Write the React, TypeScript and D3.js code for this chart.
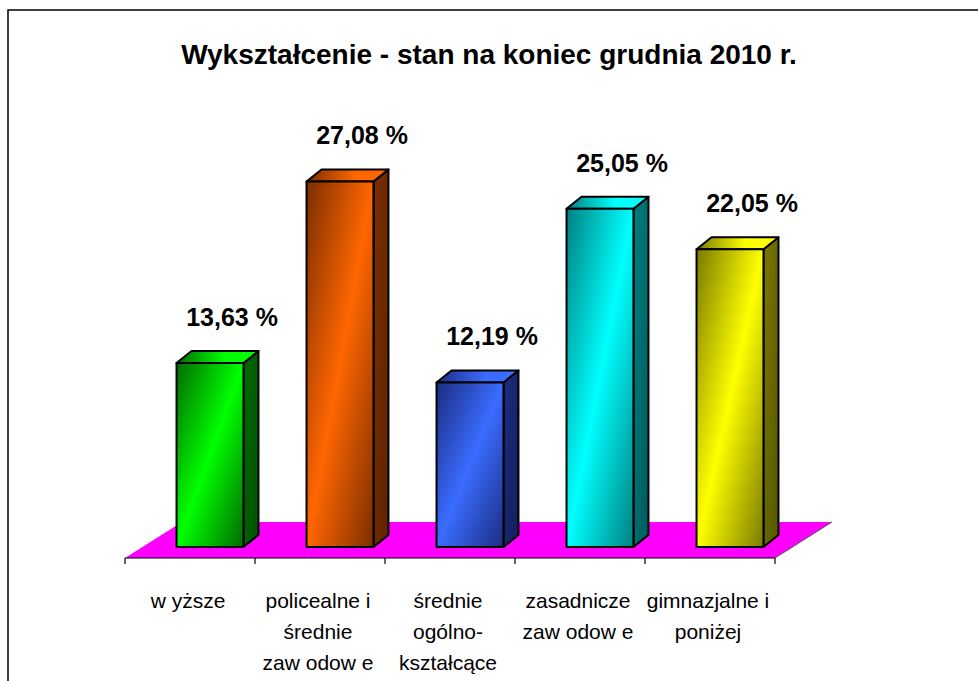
import React from "react";
import * as d3 from "d3";

const titleText = "Wykształcenie - stan na koniec grudnia 2010 r.";
const categories: string[][] = [
  ["w yższe"],
  ["policealne i", "średnie", "zaw odow e"],
  ["średnie", "ogólno-", "kształcące"],
  ["zasadnicze", "zaw odow e"],
  ["gimnazjalne i", "poniżej"],
];
const values = [13.63, 27.08, 12.19, 25.05, 22.05];
const brightColors = ["#00ff00", "#ff6600", "#3a6cff", "#00ffff", "#ffff00"];
const darkColors = ["#006a00", "#7a2e00", "#1c2c80", "#008080", "#7a7a00"];
const sideColors = ["#005200", "#5e2400", "#141f5c", "#005a5a", "#555500"];

const W = 978;
const H = 681;

export default function App() {
  const x = d3.scaleBand<number>().domain(values.map((_, i) => i)).range([125, 775]).padding(0);
  const y = d3.scaleLinear().domain([0, 30]).range([547, 142]);
  const floorFrontY = 558;
  const floorDX = 57;
  const floorDY = -36;
  const bw = x.bandwidth();
  const barW = bw * 0.515;
  const barOff = 20;
  const dX = 15;
  const dY = -12;
  const base = y(0);
  const fmt = (v: number) => v.toFixed(2).replace(".", ",") + " %";

  const x0 = x(0)!;
  const x1 = x0 + bw * values.length;
  const floorPts = [
    [x0, floorFrontY],
    [x1, floorFrontY],
    [x1 + floorDX, floorFrontY + floorDY],
    [x0 + floorDX, floorFrontY + floorDY],
  ];

  return (
    <svg
      width={W}
      height={H}
      style={{ position: "absolute", left: 0, top: 0, background: "#fff" }}
      fontFamily="Arial, 'Liberation Sans', sans-serif"
    >
      <defs>
        {values.map((_, i) => (
          <React.Fragment key={i}>
            <linearGradient id={`front${i}`} x1="0" y1="0" x2="1" y2="1">
              <stop offset="0" stopColor={darkColors[i]} />
              <stop offset="0.5" stopColor={brightColors[i]} />
              <stop offset="1" stopColor={darkColors[i]} />
            </linearGradient>
            <linearGradient id={`side${i}`} x1="0" y1="0" x2="1" y2="1">
              <stop offset="0" stopColor={darkColors[i]} />
              <stop offset="1" stopColor={sideColors[i]} />
            </linearGradient>
            <linearGradient id={`top${i}`} x1="0" y1="0" x2="1" y2="0">
              <stop offset="0" stopColor={darkColors[i]} />
              <stop offset="0.6" stopColor={brightColors[i]} />
              <stop offset="1" stopColor={brightColors[i]} />
            </linearGradient>
          </React.Fragment>
        ))}
      </defs>
      <rect x={8} y={10} width={1100} height={800} fill="#fff" stroke="#000" strokeWidth={1.5} />
      <text x={489} y={64} textAnchor="middle" fontSize={28} fontWeight="bold" fill="#000">
        {titleText}
      </text>
      {/* floor */}
      <polygon points={floorPts.map((p) => p.join(",")).join(" ")} fill="#ff00ff" />
      <line x1={x1} y1={floorFrontY} x2={x1 + floorDX} y2={floorFrontY + floorDY} stroke="#555" strokeWidth={1} />
      {/* axis */}
      <line x1={x0} y1={floorFrontY} x2={x1} y2={floorFrontY} stroke="#000" strokeWidth={1.2} />
      {d3.range(values.length + 1).map((i) => {
        const tx = x0 + i * bw;
        return <line key={i} x1={tx} y1={floorFrontY} x2={tx} y2={floorFrontY + 6} stroke="#000" strokeWidth={1.2} />;
      })}
      {/* bars */}
      {values.map((v, i) => {
        const bx = x(i)! + (bw - barW) / 2 + barOff;
        const top = y(v);
        const front = `M${bx},${top}H${bx + barW}V${base}H${bx}Z`;
        const side = `M${bx + barW},${top}L${bx + barW + dX},${top + dY}L${bx + barW + dX},${base + dY}L${bx + barW},${base}Z`;
        const topFace = `M${bx},${top}L${bx + dX},${top + dY}L${bx + barW + dX},${top + dY}L${bx + barW},${top}Z`;
        return (
          <g key={i} stroke="#000" strokeWidth={2} strokeLinejoin="round">
            <path d={side} fill={`url(#side${i})`} />
            <path d={topFace} fill={`url(#top${i})`} />
            <path d={front} fill={`url(#front${i})`} />
            <text
              x={bx + barW / 2 + 22}
              y={top - 37}
              textAnchor="middle"
              fontSize={25}
              fontWeight="bold"
              stroke="none"
              fill="#000"
            >
              {fmt(v)}
            </text>
          </g>
        );
      })}
      {/* category labels */}
      {categories.map((lines, i) => (
        <text key={i} x={x(i)! + bw / 2} y={608} textAnchor="middle" fontSize={21} fill="#000">
          {lines.map((l, j) => (
            <tspan key={j} x={x(i)! + bw / 2 - 2} dy={j === 0 ? 0 : 31}>
              {l}
            </tspan>
          ))}
        </text>
      ))}
    </svg>
  );
}
